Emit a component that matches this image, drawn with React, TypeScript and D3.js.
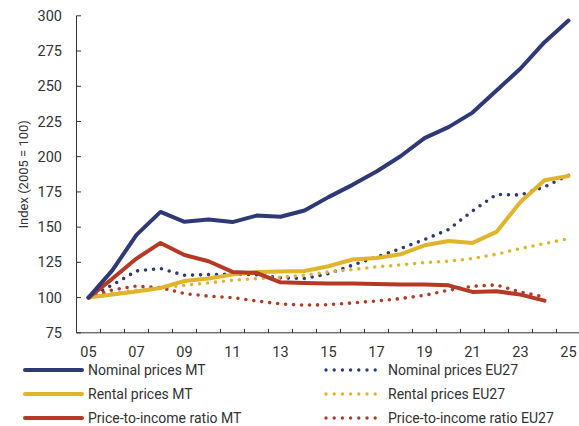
import React from "react";
import * as d3 from "d3";

const years = ["05","06","07","08","09","10","11","12","13","14","15","16","17","18","19","20","21","22","23","24","25"];
const yTicks = [75, 100, 125, 150, 175, 200, 225, 250, 275, 300];
const xLabels = ["05","07","09","11","13","15","17","19","21","23","25"];

const nominalMT = [100,119.5,144.5,160.8,153.8,155.4,153.6,158.2,157.4,161.8,171.3,180,189.5,200.3,213.2,221,231.3,247,262.6,281.3,296.6];
const nominalEU = [100,109,118.9,120.6,115.8,116.3,116.6,116.2,114,113.5,117,123,128.8,134.8,141.2,148.3,161.5,173.2,172.8,178.6,186.9];
const rentalMT = [100,102.2,104.3,106.8,111.8,113.5,116.3,118.2,118.5,118.9,122.2,127,128.1,130.7,137.1,140.2,138.8,146.6,167.9,183.3,186.3];
const rentalEU = [100,103,105.3,107.1,108.7,110.4,112.3,113.5,114.5,115.8,118.2,119.9,121.8,123.2,124.8,125.8,127.7,130.8,134.8,138.3,141.8];
const ptiMT = [100,113.5,127.7,138.8,130.2,125.8,118.2,117.5,110.8,110.4,110,110,109.6,109.3,109.3,108.7,104,104.5,102.1,97.8];
const ptiEU = [100,105.5,108.2,107.1,102.8,101,100,97.6,95.5,94.6,95,96.2,97.6,99.3,101.6,105.2,108,109,104,100.4];

const NAVY = "#2e3975";
const GOLD = "#e0b52c";
const RED = "#b43a26";

const series = [
  { name: "Nominal prices MT", values: nominalMT, color: NAVY, dotted: false },
  { name: "Nominal prices EU27", values: nominalEU, color: NAVY, dotted: true },
  { name: "Rental prices MT", values: rentalMT, color: GOLD, dotted: false },
  { name: "Rental prices EU27", values: rentalEU, color: GOLD, dotted: true },
  { name: "Price-to-income ratio MT", values: ptiMT, color: RED, dotted: false },
  { name: "Price-to-income ratio EU27", values: ptiEU, color: RED, dotted: true },
];

const drawOrder = [1, 3, 5, 2, 4, 0];

export default function App() {
  const W = 579, H = 426;
  const x = d3.scaleBand<string>().domain(years).range([76.5, 580.5]);
  const y = d3.scaleLinear().domain([75, 300]).range([332.8, 15.8]);
  const cx = (i: number) => (x(years[i]) as number) + x.bandwidth() / 2;
  const line = d3.line<number>().x((_, i) => cx(i)).y((v) => y(v));
  const font = "Roboto, sans-serif";
  const axisColor = "#333";
  const ticksX = years.slice(1).map((yr) => x(yr) as number);

  const legendLeft = series.filter((s) => !s.dotted);
  const legendRight = series.filter((s) => s.dotted);
  const rowY = [370, 394, 418];

  return (
    <svg width={W} height={H} style={{ position: "absolute", left: 0, top: 0 }} fontFamily={font}>
      <rect width={W} height={H} fill="#fff" />
      {/* axes */}
      <line x1={76.5} x2={76.5} y1={y(300)} y2={y(75)} stroke={axisColor} strokeWidth={1} />
      <line x1={76.5} x2={W} y1={y(75)} y2={y(75)} stroke={axisColor} strokeWidth={1} />
      {yTicks.map((t) => (
        <g key={t}>
          <line x1={76.5} x2={81} y1={y(t)} y2={y(t)} stroke={axisColor} />
          <text x={62} y={y(t)} dy="0.35em" textAnchor="end" fontSize={14.5} fill={axisColor}>{t}</text>
        </g>
      ))}
      {ticksX.map((tx, i) => (
        <line key={i} x1={tx} x2={tx} y1={y(75)} y2={y(75) - 4} stroke={axisColor} />
      ))}
      {xLabels.map((l) => (
        <text key={l} x={(x(l) as number) + x.bandwidth() / 2} y={357} textAnchor="middle" fontSize={14.5} fill={axisColor}>{l}</text>
      ))}
      <text transform={`translate(23,${(y(75) + y(300)) / 2}) rotate(-90)`} textAnchor="middle" fontSize={13} fill={axisColor} dy="0.35em">Index (2005 = 100)</text>
      {/* lines */}
      {drawOrder.map((k) => {
        const s = series[k];
        return (
          <path key={s.name} d={line(s.values) as string} fill="none" stroke={s.color}
            strokeWidth={s.dotted ? 3.6 : 4} strokeLinecap="round" strokeLinejoin="round"
            strokeDasharray={s.dotted ? "0 8" : undefined} />
        );
      })}
      {/* legend */}
      {legendLeft.map((s, i) => (
        <g key={s.name}>
          <line x1={25} x2={82} y1={rowY[i]} y2={rowY[i]} stroke={s.color} strokeWidth={4} strokeLinecap="round" />
          <text x={88} y={rowY[i]} dy="0.35em" fontSize={14} fill={axisColor}>{s.name}</text>
        </g>
      ))}
      {legendRight.map((s, i) => (
        <g key={s.name}>
          <line x1={326} x2={376} y1={rowY[i]} y2={rowY[i]} stroke={s.color} strokeWidth={3.4} strokeLinecap="round" strokeDasharray="0 8.2" />
          <text x={388} y={rowY[i]} dy="0.35em" fontSize={14} fill={axisColor}>{s.name}</text>
        </g>
      ))}
    </svg>
  );
}
